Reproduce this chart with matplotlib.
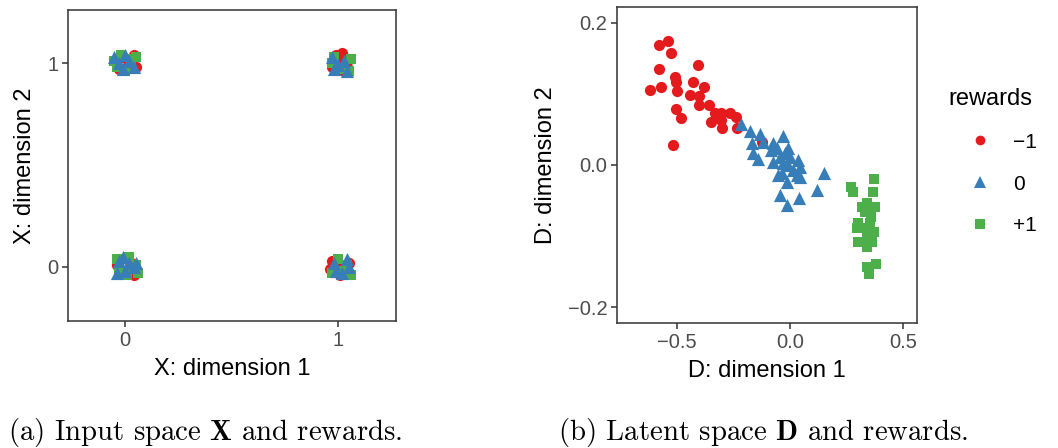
import numpy as np
import matplotlib
matplotlib.use('Agg')
import matplotlib.pyplot as plt
from matplotlib.lines import Line2D

plt.rcParams['font.family'] = ['Liberation Sans', 'DejaVu Sans']
plt.rcParams['mathtext.fontset'] = 'cm'

RED, BLUE, GREEN = '#E41A1C', '#377EB8', '#4DAF4A'

# input space X (jittered corners)
red_x = [0.03, -0.02, 0.05, 0.01, -0.04, 0.04, 0.04, -0.01, 0.05, 0.02, -0.03,
         0.97, 1.04, 1.01, 0.99, 1.05, 0.96, 0.99, 1.02, 1.05, 0.97, 1.03, 1.00, 1.04]
red_y = [0.02, -0.03, -0.01, 0.04, 0.01, -0.04, 1.04, 1.03, 0.98, 1.00, 0.97,
         0.03, -0.02, -0.04, 0.01, 0.02, -0.01, 1.04, 1.05, 1.02, 0.98, 0.96, 1.01, 0.98]
green_x = [-0.04, 0.02, 0.05, -0.03, 0.01, 0.06, -0.04, 0.03, -0.02, 0.00, 0.05, -0.05,
           1.00, 0.97, 1.04, 1.06, 1.02, 0.98, 1.05, 1.01, 1.06, 0.97]
green_y = [0.04, 0.05, 0.01, -0.02, -0.04, -0.03, 0.98, 1.02, 1.04, 0.96, 1.03, 1.01,
           0.04, -0.03, 0.01, -0.04, -0.02, 1.03, 0.96, 0.97, 1.02, 1.00]
blue_x = [-0.03, 0.02, 0.04, -0.04, 0.00, 0.05, -0.01, -0.05, 0.02, -0.01, 0.04, 0.00, -0.03,
          1.04, 0.99, 1.05, 0.98, 1.02, 0.97, 1.00, 1.03, 1.04, 0.98]
blue_y = [0.03, 0.02, 0.00, -0.03, -0.02, 0.02, 0.05, 1.03, 1.01, 0.97, 0.98, 1.04, 1.00,
          0.04, -0.02, 0.00, 0.02, -0.03, 1.03, 0.99, 1.01, 0.96, 0.97]

# latent space D
d_red_x = [-0.580, -0.540, -0.527, -0.580, -0.407, -0.509, -0.504, -0.571, -0.619, -0.500,
           -0.429, -0.381, -0.442, -0.403, -0.403, -0.358, -0.504, -0.482, -0.332, -0.305,
           -0.265, -0.350, -0.305, -0.301, -0.239, -0.235, -0.518, -0.124]
d_red_y = [0.169, 0.174, 0.157, 0.135, 0.140, 0.124, 0.117, 0.110, 0.105, 0.104,
           0.117, 0.110, 0.098, 0.097, 0.084, 0.084, 0.079, 0.066, 0.073, 0.073,
           0.073, 0.060, 0.063, 0.052, 0.067, 0.052, 0.028, 0.032]
d_blue_x = [-0.217, -0.177, -0.133, -0.168, -0.119, -0.031, -0.075, -0.164, -0.142, -0.084,
            -0.058, -0.009, -0.075, -0.044, -0.022, 0.000, 0.035, -0.031, -0.009, 0.044,
            0.013, -0.035, 0.031, -0.053, 0.150, -0.013, 0.044, 0.119, -0.044, 0.040, -0.013]
d_blue_y = [0.058, 0.048, 0.044, 0.031, 0.032, 0.041, 0.031, 0.017, 0.008, 0.021,
            0.024, 0.024, 0.004, 0.011, 0.017, 0.011, 0.007, 0.003, 0.000, -0.003,
            -0.007, -0.011, -0.014, -0.014, -0.011, -0.024, -0.017, -0.035, -0.042, -0.046, -0.056]
d_green_x = [0.372, 0.270, 0.279, 0.367, 0.341, 0.319, 0.376, 0.332, 0.358, 0.301, 0.354,
             0.296, 0.341, 0.372, 0.341, 0.301, 0.363, 0.341, 0.381, 0.341, 0.350]
d_green_y = [-0.020, -0.031, -0.038, -0.038, -0.053, -0.059, -0.059, -0.066, -0.073, -0.081, -0.081,
             -0.088, -0.088, -0.094, -0.101, -0.108, -0.108, -0.115, -0.139, -0.143, -0.153]

fig = plt.figure(figsize=(10.58, 4.48), dpi=100)
ax1 = fig.add_axes([0.0643, 0.2835, 0.310, 0.694])
ax2 = fig.add_axes([0.5832, 0.279, 0.2836, 0.7054])

def style(ax):
    for s in ax.spines.values():
        s.set_color('#333333')
        s.set_linewidth(1.1)
    ax.tick_params(length=4, width=1.1, color='#333333', labelcolor='#4D4D4D',
                   labelsize=14.5, pad=3)

ax1.scatter(red_x, red_y, marker='o', s=65, c=RED, linewidths=0)
ax1.scatter(green_x, green_y, marker='s', s=60, c=GREEN, linewidths=0)
ax1.scatter(blue_x, blue_y, marker='^', s=90, c=BLUE, linewidths=0)
ax1.set_xlim(-0.268, 1.272)
ax1.set_ylim(-0.265, 1.26)
ax1.set_xticks([0, 1])
ax1.set_yticks([0, 1])
ax1.set_xlabel('X: dimension 1', fontsize=17, labelpad=6)
ax1.set_ylabel('X: dimension 2', fontsize=17, labelpad=8)
style(ax1)

ax2.scatter(d_red_x, d_red_y, marker='o', s=65, c=RED, linewidths=0)
ax2.scatter(d_blue_x, d_blue_y, marker='^', s=90, c=BLUE, linewidths=0)
ax2.scatter(d_green_x, d_green_y, marker='s', s=60, c=GREEN, linewidths=0)
ax2.set_xlim(-0.765, 0.562)
ax2.set_ylim(-0.222, 0.222)
ax2.set_xticks([-0.5, 0.0, 0.5])
ax2.set_xticklabels(['\u22120.5', '0.0', '0.5'])
ax2.set_yticks([-0.2, 0.0, 0.2])
ax2.set_yticklabels(['\u22120.2', '0.0', '0.2'])
ax2.set_xlabel('D: dimension 1', fontsize=17, labelpad=6)
ax2.set_ylabel('D: dimension 2', fontsize=17, labelpad=8)
style(ax2)

handles = [Line2D([], [], ls='', marker='o', ms=7, color=RED, mew=0),
           Line2D([], [], ls='', marker='^', ms=8, color=BLUE, mew=0),
           Line2D([], [], ls='', marker='s', ms=6.5, color=GREEN, mew=0)]
leg = fig.legend(handles, ['\u22121', '0', '+1'], title='rewards', loc='upper left',
                 bbox_to_anchor=(0.879, 0.846), frameon=False, fontsize=15,
                 title_fontsize=17, labelspacing=1.1, handlelength=3.0,
                 handletextpad=0.1)
leg._legend_box.align = 'left'

fig.text(205 / 1058, 1 - 432 / 448, r'(a) Input space $\mathbf{X}$ and rewards.',
         family='cmr10', fontsize=20.7, ha='center', va='center')
fig.text(763 / 1058, 1 - 432 / 448, r'(b) Latent space $\mathbf{D}$ and rewards.',
         family='cmr10', fontsize=20.7, ha='center', va='center')

fig.savefig('out.png', dpi=100)
